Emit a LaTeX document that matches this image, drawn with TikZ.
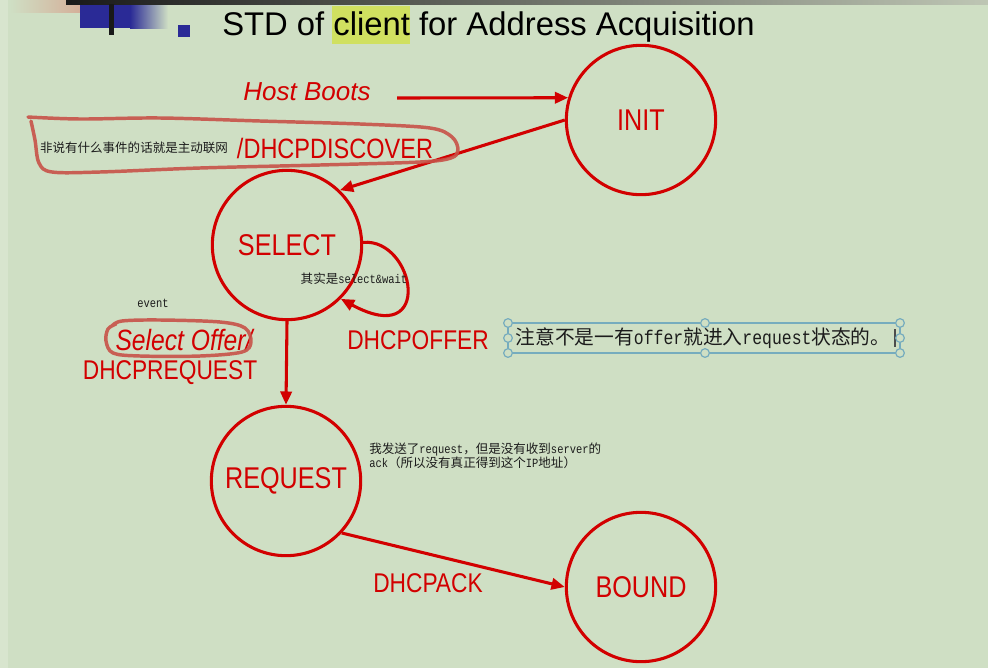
\documentclass[tikz,border=0pt]{standalone}
\usepackage{fontspec}
\setmainfont{Liberation Sans}
\newfontfamily\capsf{Liberation Sans}[FakeStretch=0.84]
\newfontfamily\cjk{Noto Sans CJK SC}
\newfontfamily\mono{Liberation Mono}[FakeStretch=0.833]
\usetikzlibrary{arrows.meta}
\definecolor{bg}{RGB}{207,223,196}
\definecolor{bgl}{RGB}{216,229,206}
\definecolor{dred}{RGB}{210,0,0}
\definecolor{hand}{RGB}{200,82,72}
\definecolor{hl}{RGB}{208,224,96}
\definecolor{tealc}{RGB}{118,172,190}
\definecolor{bul}{RGB}{42,42,150}
\definecolor{ink}{RGB}{28,28,28}
\newcommand\fsz[1]{\fontsize{#1}{#1}\selectfont}
\tikzset{
  statenode/.style={circle,draw=dred,line width=2.3pt,minimum size=112pt,inner sep=0pt,
    text=dred,font=\capsf\fsz{22.5pt}},
  lbl/.style={text=dred,font=\capsf\fsz{20.3pt},inner sep=0pt},
  small/.style={text=ink,font=\cjk\fsz{9.4pt},inner sep=0pt},
  arr/.style={draw=dred,line width=2.3pt,-{Triangle[length=10pt,width=8.5pt]}},
  handline/.style={draw=hand,line width=2.6pt,opacity=0.9,line cap=round,line join=round},
  handle/.style={circle,draw=tealc,fill=bg,line width=0.9pt,minimum size=6.5pt,inner sep=0pt}
}
\begin{document}
\begin{tikzpicture}[x=0.75pt,y=-0.75pt]
\useasboundingbox (0,0) rectangle (988,668);
\fill[bg] (0,0) rectangle (988,668);
\fill[bgl] (0,0) rectangle (8,668);
% top decoration
\shade[left color=bg,right color={rgb,255:red,214;green,160;blue,140}] (10,0) rectangle (102,12);
\shade[left color=black!90,right color={rgb,255:red,190;green,198;blue,180}] (66,0) rectangle (988,4.5);
\fill[bul] (80,5) rectangle (130,28);
\shade[left color=bul,right color=bg] (130,5) rectangle (168,28);
\fill[black!90] (109,4) rectangle (113.5,35);
\fill[bul] (178,25) rectangle (190,37);
% title
\fill[hl] (332,6) rectangle (410,44);
\node[anchor=west,inner sep=0pt,text=black,font=\fsz{24.6pt}] (title) at (222,27) {STD of client for Address Acquisition};

% states
\node[statenode] (init) at (641,120) {INIT};
\node[statenode] (select) at (287,245) {SELECT};
\node[statenode] (request) at (286,481) {REQUEST};
\node[statenode] (bound) at (641,587) {BOUND};

% host boots
\node[text=dred,inner sep=0pt,font=\itshape\fsz{19.5pt}] (hbtext) at (307,92) {Host Boots};
\coordinate (hb) at (397,98);
\draw[arr] (hb) -- (init.163);

% init -> select
\draw[arr] (init.180) -- (select.46);
\node[lbl,font=\capsf\fsz{21pt}] (disc) at (335,148) {/DHCPDISCOVER};
\node[small] (note1) at (134,148) {非说有什么事件的话就是主动联网};
\draw[handline] plot[smooth,tension=0.55] coordinates {(28,117) (80,119) (160,118) (260,121) (360,124) (430,128) (452,137) (458,150) (451,158) (420,162) (320,165) (200,168) (100,172) (52,172) (39,163) (35,140) (31,121)};

% self loop
\draw[arr] (select.2) .. controls (415,238) and (435,350) .. (select.-45);
\node[small,anchor=center] (wait) at (354,279) {其实是{\mono select\&wait}};
\node[lbl] (offer) at (418,340) {DHCPOFFER};

% note box
\draw[tealc,line width=1pt] (508,323) rectangle (900,353);
\node[text=ink,inner sep=0pt,font=\cjk\fsz{14.8pt}] (note2) at (703,338) {注意不是一有{\mono offer}就进入{\mono request}状态的。};
\draw[black!70,line width=1.2pt] (895,329) -- (895,347);
\foreach \p in {(508,323),(705,323),(900,323),(508,338),(900,338),(508,353),(705,353),(900,353)}
  \node[handle] at \p {};

% select -> request
\draw[arr] (select.south) -- (request.north);
\node[small,font=\mono\fsz{9.4pt}] (event) at (153,303) {event};
\node[text=dred,inner sep=0pt,font=\itshape\capsf\fsz{22pt}] (selof) at (184,340) {Select Offer/};
\node[lbl] (dreq) at (170,373) {DHCPREQUEST};
\draw[handline] plot[smooth,tension=0.55] coordinates {(112,326) (122,321) (160,320) (220,322) (245,328) (251,342) (242,352) (200,356) (140,356) (113,353) (106,341) (108,329) (116,324)};

% request note
\node[small,anchor=west] (rn1) at (369,450) {我发送了{\mono request}，但是没有收到{\mono server}的};
\node[small,anchor=west] (rn2) at (369,462.5) {{\mono ack}（所以没有真正得到这个{\mono IP}地址）};

% request -> bound
\draw[arr] (request.-43) -- (bound.180);
\node[lbl] (ack) at (428,583) {DHCPACK};
\end{tikzpicture}
\end{document}
